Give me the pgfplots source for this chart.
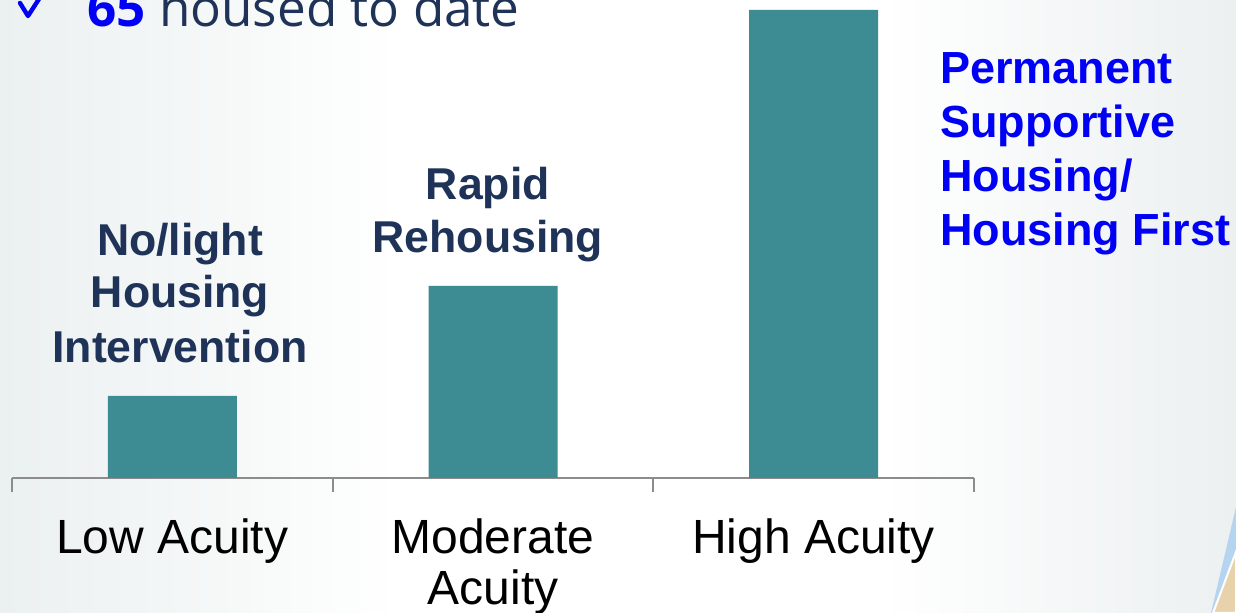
\documentclass[border=0pt]{standalone}
\usepackage{pgfplots}
\pgfplotsset{compat=1.18}
\usepackage{fontspec}
\setmainfont{Liberation Sans}
\newfontfamily\opensans{Open Sans}
\definecolor{barc}{HTML}{3D8B93}
\definecolor{navy}{HTML}{1F3358}
\definecolor{vblue}{HTML}{0000F5}
\definecolor{axgray}{HTML}{8C8C8C}
\definecolor{bgL}{HTML}{EBF0F0}
\definecolor{bgR}{HTML}{ECF0F1}
\definecolor{decblue}{HTML}{B5D4F0}
\definecolor{dectan}{HTML}{E8D2AC}
\begin{document}
\begin{tikzpicture}
\path[use as bounding box, clip] (0,0) rectangle (618pt,306.5pt);
\fill[white] (0,0) rectangle (618pt,306.5pt);
\shade[left color=bgL, right color=white] (0,0) rectangle (200pt,306.5pt);
\shade[left color=white, right color=bgR] (440pt,0) rectangle (618pt,306.5pt);
% decoration bottom right
\fill[decblue] (618pt,53pt) -- (605.5pt,0pt) -- (618pt,0pt) -- cycle;
\fill[dectan, draw=white, line width=1pt] (618pt,30.5pt) -- (606.5pt,0pt) -- (618pt,0pt) -- cycle;
% top text (cut off)
\draw[vblue, line width=2.2pt, line cap=round, line join=round] (10pt,305pt) -- (14pt,298.5pt) -- (19.5pt,307pt);
\node[anchor=base west, inner sep=0pt] at (43.5pt,293pt)
  {\opensans\fontsize{25.6}{27}\selectfont\textcolor{vblue}{\bfseries 65} \textcolor{navy}{housed to date}};
\begin{axis}[
  at={(6pt,67.5pt)}, anchor=south west, scale only axis,
  width=481pt, height=239pt,
  xmin=-0.5, xmax=2.5, ymin=0, ymax=478,
  axis y line=none, axis x line=bottom,
  x axis line style={-, draw=axgray, line width=1pt},
  xtick={0,1,2},
  xticklabels={Low Acuity, {Moderate\\Acuity}, High Acuity},
  major tick length=0pt,
  xticklabel style={align=center, inner sep=0pt, font=\fontsize{24}{25.5}\selectfont, text=black, yshift=-20pt},
  extra x ticks={-0.5,0.5,1.5,2.5}, extra x tick labels={},
  extra x tick style={major tick length=7pt, tick align=outside, tick style={draw=axgray, line width=1pt}},
  ybar, bar width=64.5pt,
  clip=false,
]
\addplot[fill=barc, draw=none] coordinates {(0,82) (1,192) (2,468)};
\begin{scope}[every node/.style={anchor=base, inner sep=0pt, text=navy, font=\fontsize{22.3}{27}\selectfont\bfseries}]
\node at (axis cs:0.024,222) {No/light};
\node at (axis cs:0.024,170) {Housing};
\node at (axis cs:0.024,115) {Intervention};
\node at (axis cs:0.984,278) {Rapid};
\node at (axis cs:0.984,225) {Rehousing};
\end{scope}
\begin{scope}[every node/.style={anchor=base west, inner sep=0pt, text=vblue, font=\fontsize{22.5}{27}\selectfont\bfseries}]
\node at (axis cs:2.394,394) {Permanent};
\node at (axis cs:2.394,340) {Supportive};
\node at (axis cs:2.394,286) {Housing/};
\node at (axis cs:2.394,232) {Housing First};
\end{scope}
\end{axis}
\end{tikzpicture}
\end{document}
